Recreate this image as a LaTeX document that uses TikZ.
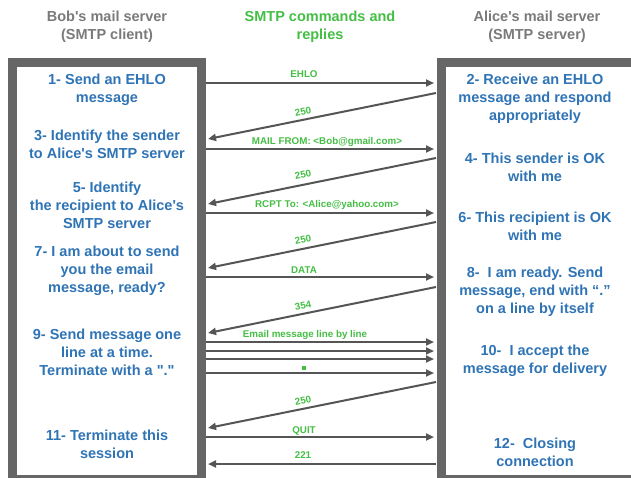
\documentclass[tikz,border=0pt]{standalone}
\usepackage{fontspec}
\setmainfont{Liberation Sans}[Ligatures=TeXOff]
\usetikzlibrary{arrows.meta}
\definecolor{bluetxt}{HTML}{2F74B5}
\definecolor{greentxt}{HTML}{45BE45}
\definecolor{graytxt}{HTML}{7A7A7A}
\definecolor{framegray}{HTML}{666666}
\definecolor{arrowgray}{HTML}{555555}
\begin{document}
\begin{tikzpicture}[x=1pt,y=-1pt,
  frame/.style={draw=framegray,line width=9pt,fill=white},
  stepbox/.style={text=bluetxt,font=\bfseries\fontsize{14.5}{18}\selectfont,align=center,inner sep=0},
  title/.style={text=graytxt,font=\bfseries\fontsize{14.5}{18}\selectfont,align=center,inner sep=0},
  gtitle/.style={text=greentxt,font=\bfseries\fontsize{14.5}{18}\selectfont,align=center,inner sep=0},
  msg/.style={draw=arrowgray,line width=2pt,-{Triangle[length=8pt,width=7pt]}},
  lbl/.style={text=greentxt,font=\bfseries\fontsize{9.8}{11}\selectfont,inner sep=0}]
\useasboundingbox (0,0) rectangle (631,477);
\clip (0,0) rectangle (631,477);
\fill[white] (0,0) rectangle (631,477);

% titles
\node[title] (tbob) at (107,27) {Bob's mail server\\(SMTP client)};
\node[gtitle] (tsmtp) at (320,27) {SMTP commands and\\replies};
\node[title] (talice) at (537,27) {Alice's mail server\\(SMTP server)};

% frames
\draw[frame] (12.5,62) rectangle (201.5,479.5);
\draw[frame] (441,62) rectangle (640,479.5);

% left steps
\node[stepbox] (s1) at (107,90) {1- Send an EHLO\\message};
\node[stepbox] (s3) at (107,144) {3- Identify the sender\\to Alice's SMTP server};
\node[stepbox] (s5) at (107,205) {5- Identify\\the recipient to Alice's\\SMTP server};
\node[stepbox] (s7) at (107,271) {7- I am about to send\\you the email\\message, ready?};
\node[stepbox] (s9) at (107,352) {9- Send message one\\line at a time.\\Terminate with a "."};
\node[stepbox] (s11) at (107,444) {11- Terminate this\\session};

% right steps
\node[stepbox] (s2) at (535,99) {2- Receive an EHLO\\message and respond\\appropriately};
\node[stepbox] (s4) at (535,167) {4- This sender is OK\\with me};
\node[stepbox] (s6) at (535,226) {6- This recipient is OK\\with me};
\node[stepbox] (s8) at (535,292) {8-\ \ I am ready. Send\\message, end with “.”\\on a line by itself};
\node[stepbox] (s10) at (535,361) {10-\ \ I accept the\\message for delivery};
\node[stepbox] (s12) at (535,452) {12-\ \ Closing\\connection};

% endpoints
\coordinate (l1) at (206,83);   \coordinate (r1) at (434,83);
\coordinate (r2) at (436,93);   \coordinate (l2) at (208,139);
\coordinate (l3) at (206,149);  \coordinate (r3) at (434,149);
\coordinate (r4) at (436,158);  \coordinate (l4) at (208,204);
\coordinate (l5) at (206,213);  \coordinate (r5) at (434,213);
\coordinate (r6) at (436,222);  \coordinate (l6) at (208,268);
\coordinate (l7) at (206,277);  \coordinate (r7) at (434,277);
\coordinate (r8) at (436,287);  \coordinate (l8) at (208,333);
\coordinate (l9a) at (206,342); \coordinate (r9a) at (434,342);
\coordinate (l9b) at (206,351); \coordinate (r9b) at (434,351);
\coordinate (l9c) at (206,359); \coordinate (r9c) at (434,359);
\coordinate (l9d) at (206,373); \coordinate (r9d) at (434,373);
\coordinate (r10) at (436,382); \coordinate (l10) at (208,428);
\coordinate (l11) at (206,437); \coordinate (r11) at (434,437);
\coordinate (r12) at (436,464); \coordinate (l12) at (208,464);

% messages
\draw[msg] (l1) -- (r1);
\draw[msg] (r2) -- (l2);
\draw[msg] (l3) -- (r3);
\draw[msg] (r4) -- (l4);
\draw[msg] (l5) -- (r5);
\draw[msg] (r6) -- (l6);
\draw[msg] (l7) -- (r7);
\draw[msg] (r8) -- (l8);
\draw[msg] (l9a) -- (r9a);
\draw[msg] (l9b) -- (r9b);
\draw[msg] (l9c) -- (r9c);
\draw[msg] (l9d) -- (r9d);
\draw[msg] (r10) -- (l10);
\draw[msg] (l11) -- (r11);
\draw[msg] (r12) -- (l12);

% labels
\node[lbl] (m1) at (304,74) {EHLO};
\node[lbl,rotate=11.5] (m2) at (303,112) {250};
\node[lbl] (m3) at (327,142) {MAIL FROM: <Bob@gmail.com>};
\node[lbl,rotate=11.5] (m4) at (303,175) {250};
\node[lbl] (m5) at (327,205) {RCPT To: <Alice@yahoo.com>};
\node[lbl,rotate=11.5] (m6) at (303,240) {250};
\node[lbl] (m7) at (304,270) {DATA};
\node[lbl,rotate=11.5] (m8) at (303,306) {354};
\node[lbl] (m9) at (305,335) {Email message line by line};
\node[fill=greentxt,minimum size=3.5pt,inner sep=0] (m9d) at (304,368) {};
\node[lbl,rotate=11.5] (m10) at (303,401) {250};
\node[lbl] (m11) at (304,431) {QUIT};
\node[lbl] (m12) at (303,455) {221};
\end{tikzpicture}
\end{document}
